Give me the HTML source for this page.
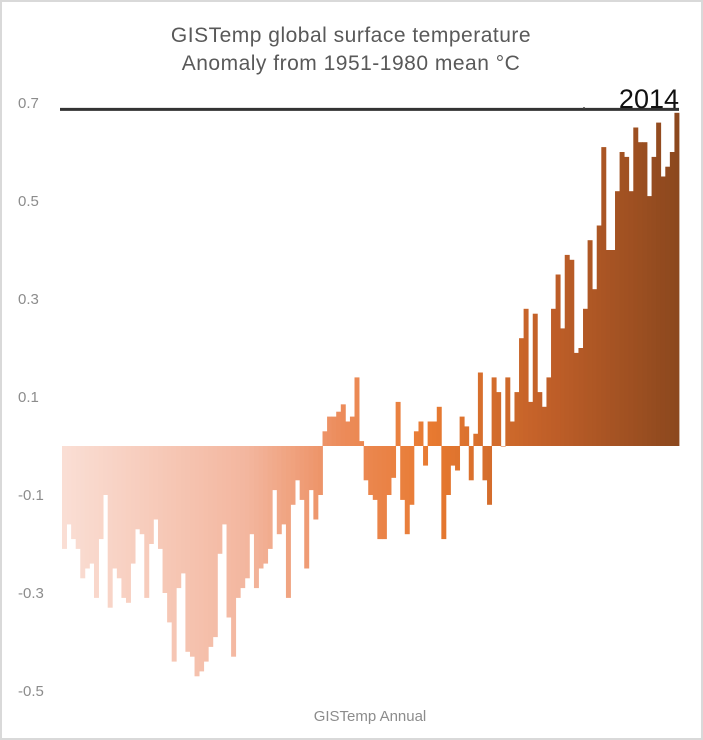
<!DOCTYPE html>
<html><head><meta charset="utf-8">
<style>
html,body{margin:0;padding:0;background:#fff;}
#frame{position:absolute;left:0;top:0;width:699px;height:736px;border:2px solid #d9d9d9;background:#fff;}
svg{position:absolute;left:0;top:0;}
text{font-family:"Liberation Sans",sans-serif;}
</style></head>
<body>
<div id="frame"></div>
<svg id="chart" width="703" height="740">
  <g>
    <text x="351" y="42" text-anchor="middle" font-size="21" fill="#595959" letter-spacing="0.5">GISTemp global surface temperature</text>
    <text x="351" y="70" text-anchor="middle" font-size="21" fill="#595959" letter-spacing="0.5">Anomaly from 1951-1980 mean °C</text>
  </g>
  <g id="yaxis"></g>
  <g id="bars"></g>
  <line id="refline" stroke="#333" stroke-width="3"></line>
  <circle cx="584" cy="108" r="1" fill="#444"></circle>
  <text id="reflabel" x="679" y="108" text-anchor="end" font-size="27" fill="#111">2014</text>
  <text x="370" y="721" text-anchor="middle" font-size="15" fill="#8c8c8c">GISTemp Annual</text>
</svg>
<script>
const startYear = 1880;
const anomalies = [
-0.21,-0.16,-0.19,-0.21,-0.27,-0.25,-0.24,-0.31,-0.19,-0.10,
-0.33,-0.25,-0.27,-0.31,-0.32,-0.24,-0.17,-0.18,-0.31,-0.20,
-0.15,-0.21,-0.30,-0.36,-0.44,-0.29,-0.26,-0.42,-0.43,-0.47,
-0.46,-0.44,-0.41,-0.39,-0.22,-0.16,-0.35,-0.43,-0.31,-0.29,
-0.27,-0.18,-0.29,-0.25,-0.24,-0.21,-0.09,-0.18,-0.16,-0.31,
-0.12,-0.07,-0.11,-0.25,-0.09,-0.15,-0.10,0.03,0.06,0.06,
0.07,0.085,0.05,0.06,0.14,0.01,-0.07,-0.10,-0.11,-0.19,
-0.19,-0.10,-0.065,0.09,-0.11,-0.18,-0.12,0.03,0.05,-0.04,
0.05,0.05,0.08,-0.19,-0.10,-0.04,-0.05,0.06,0.04,-0.07,
0.025,0.15,-0.07,-0.12,0.14,0.11,0.00,0.14,0.05,0.11,
0.22,0.28,0.09,0.27,0.11,0.08,0.14,0.28,0.35,0.24,
0.39,0.38,0.19,0.20,0.28,0.42,0.32,0.45,0.61,0.40,
0.40,0.52,0.60,0.59,0.52,0.65,0.62,0.62,0.51,0.59,
0.66,0.55,0.57,0.60,0.68
];
const yTicks = [0.7,0.5,0.3,0.1,-0.1,-0.3,-0.5];
const recordValue = 0.686;

const NS="http://www.w3.org/2000/svg";
const x0=62, x1=679, zeroY=446, pxPerUnit=490;
const bw=(x1-x0)/anomalies.length;
function yScale(v){return zeroY - v*pxPerUnit;}
function xScale(i){return x0 + i*bw;}
const stops=[[0,[250,222,212]],[0.3,[243,182,158]],[0.45,[236,140,92]],[0.6,[232,122,48]],[0.8,[190,94,40]],[1,[140,72,30]]];
function color(t){
  for(let k=1;k<stops.length;k++){
    if(t<=stops[k][0]){
      const a=stops[k-1],b=stops[k];const f=(t-a[0])/(b[0]-a[0]);
      const c=a[1].map((v,j)=>Math.round(v+(b[1][j]-v)*f));
      return `rgb(${c[0]},${c[1]},${c[2]})`;
    }
  }
  return 'rgb(140,72,30)';
}
const ax=document.getElementById('yaxis');
yTicks.forEach(t=>{
  const tx=document.createElementNS(NS,'text');
  
  
  tx.setAttribute('x',18);tx.setAttribute('y',yScale(t)+5);
  tx.setAttribute('font-size','15');tx.setAttribute('fill','#8c8c8c');
  tx.textContent=(t<0?'-':'')+Math.abs(t).toFixed(1);
  ax.appendChild(tx);
});
const g=document.getElementById('bars');
anomalies.forEach((v,i)=>{
  const r=document.createElementNS(NS,'rect');
  
  
  const y=yScale(Math.max(v,0)),h=Math.abs(v)*pxPerUnit;
  r.setAttribute('x',xScale(i));r.setAttribute('width',bw+0.4);
  r.setAttribute('y',y);r.setAttribute('height',Math.max(h,0.5));
  r.setAttribute('fill',color(i/(anomalies.length-1)));
  g.appendChild(r);
});
const ln=document.getElementById('refline');
ln.setAttribute('x1',60);ln.setAttribute('x2',x1);
ln.setAttribute('y1',yScale(recordValue)-0.5);ln.setAttribute('y2',yScale(recordValue)-0.5);
</script>
</body></html>
